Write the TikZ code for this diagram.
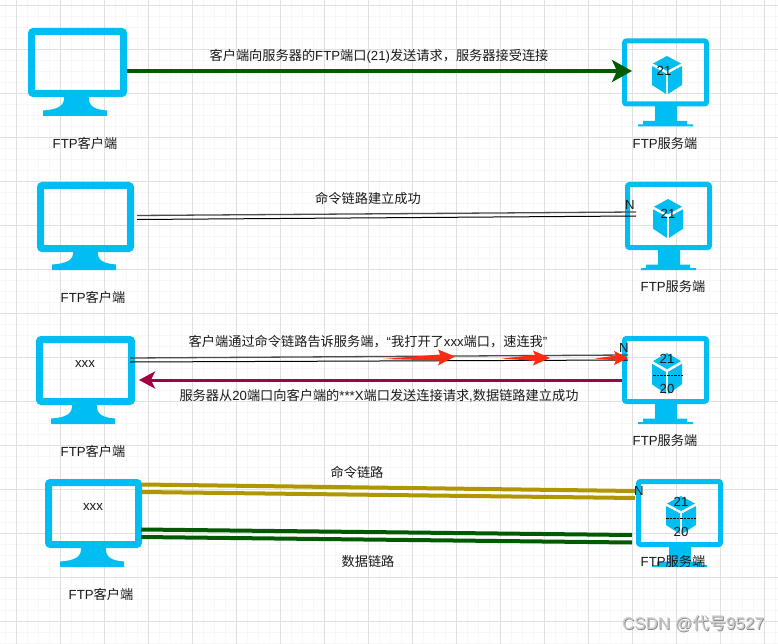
\documentclass[tikz,border=0pt]{standalone}
\usepackage{fontspec}
\setmainfont{Liberation Sans}
\newfontfamily\cjf{Noto Sans CJK SC}
\usetikzlibrary{arrows.meta}
\definecolor{moncyan}{HTML}{00BEF2}
\definecolor{dgreen}{HTML}{005A00}
\definecolor{maroonx}{HTML}{A20045}
\definecolor{goldx}{HTML}{B09600}
\definecolor{redx}{HTML}{FF2A12}
\newcommand{\cj}[1]{{\cjf #1}}
\newcommand{\clientmon}[5]{% name, left, top, width, height
  \node[monframe, minimum width=#4pt-7pt, minimum height=#5pt-7pt] (#1) at ({#2+#4/2},{#3+#5/2}) {};
  \begin{scope}[shift={(#2,#3)}]
    \fill[moncyan] (36,{#5-1}) .. controls (37,78) and (30,81.5) .. (15,82.5) -- (15,88) -- (79,88) -- (79,82.5) .. controls (66,81.5) and (60,78) .. (61,{#5-1}) -- cycle;
  \end{scope}}
\newcommand{\servermon}[3]{% name, left, top
  \node[monframe, line width=5pt, minimum width=82pt, minimum height=63pt] (#1) at ({#2+43.5},{#3+34}) {};
  \begin{scope}[shift={(#2,#3)}]
    \fill[moncyan] (33,67) -- (55,67) -- (55,82.5) -- (65,82.5) -- (65,86) -- (71,86) -- (71,88) -- (16,88) -- (16,86) -- (21,86) -- (21,82.5) -- (33,82.5) -- cycle;
  \end{scope}}
\newcommand{\cubeicon}[3]{% cx, top, height
  \begin{scope}[shift={(#1,#2)}, yscale=#3/38]
    \fill[moncyan] (0,0) -- (14,7.5) -- (0,15) -- (-14,7.5) -- cycle;
    \fill[moncyan] (-15,10) -- (-1,17.5) -- (-1,38) -- (-15,29) -- cycle;
    \fill[moncyan] (15,10) -- (1,17.5) -- (1,38) -- (15,29) -- cycle;
  \end{scope}}
\newcommand{\redarrow}[8]{% tail x y, shoulder base x, half, tip x y, neck half, midy
  \fill[redx] (#1,#2) -- (#3,#8-#7) -- (#3-2,#8-#4) -- (#5,#6) -- (#3-2,#8+#4) -- (#3,#8+#7) -- cycle;}
\tikzset{
  monframe/.style={draw=moncyan, line width=7pt, rounded corners=2pt, inner sep=0pt, outer sep=0pt},
  lbl/.style={font=\fontsize{13.2}{15}\selectfont, text=black!90, inner sep=0pt},
  biglink/.style={line width=4pt},
  thinlink/.style={line width=1pt, black},
  greylink/.style={line width=1.3pt, black!70},
  portdash/.style={black, dash pattern=on 2.5pt off 1pt, line width=0.8pt}
}
\begin{document}
\begin{tikzpicture}[x=1pt,y=-1pt]
\useasboundingbox (0,0) rectangle (778,644);
\fill[white] (0,0) rectangle (778,644);
% grid
\foreach \k in {0,...,72}{
  \draw[black!3, line width=0.5pt] ({5.7+11*\k},0) -- ({5.7+11*\k},644);
  \draw[black!3, line width=0.5pt] (0,{5+11*\k}) -- (778,{5+11*\k});
}
\foreach \k in {0,...,18}{
  \draw[black!12, line width=0.8pt] ({16.7+44*\k},0) -- ({16.7+44*\k},644);
  \draw[black!12, line width=0.8pt] (0,{5+44*\k}) -- (778,{5+44*\k});
}
% monitors
\clientmon{c1}{28}{28}{99}{69}
\clientmon{c2}{37}{182}{97}{70}
\clientmon{c3}{36}{336}{99}{69}
\clientmon{c4}{45}{479}{97}{69}
\servermon{s1}{622}{38.5}
\servermon{s2}{625}{182}
\servermon{s3}{622}{336}
\servermon{s4}{636}{479}
\cubeicon{667}{56}{38}
\cubeicon{668}{199}{39}
\cubeicon{667}{353}{41}
\cubeicon{681}{496}{38}
% monitor labels
\node[lbl] (lc1) at (85,143) {FTP\cj{客户端}};
\node[lbl] (lc2) at (93,297) {FTP\cj{客户端}};
\node[lbl] (lc3) at (93,451) {FTP\cj{客户端}};
\node[lbl] (lc4) at (101,594) {FTP\cj{客户端}};
\node[lbl] (ls1) at (665,143) {FTP\cj{服务端}};
\node[lbl] (ls2) at (673,286) {FTP\cj{服务端}};
\node[lbl] (ls3) at (665,440) {FTP\cj{服务端}};
\node[lbl] (ls4) at (673,561) {FTP\cj{服务端}};
% port texts
\node[lbl] (p1) at (664,71) {21};
\node[lbl] (p2) at (668,214) {21};
\node[lbl] (p3a) at (667,359) {21};
\node[lbl] (p3b) at (667,389) {20};
\node[lbl] (p4a) at (681,502) {21};
\node[lbl] (p4b) at (681,532) {20};
\coordinate (d3l) at (653,375);
\coordinate (d3r) at (683,375);
\coordinate (d4l) at (666,518);
\coordinate (d4r) at (696,518);
\draw[portdash] (d3l) -- (d3r);
\draw[portdash] (d4l) -- (d4r);
\node[lbl] (xa) at (85,364) {xxx};
\node[lbl] (xb) at (93,507) {xxx};
\node[lbl] (n2) at (630,205) {N};
\node[lbl] (n3) at (624,348) {N};
\node[lbl] (n4) at (639,491) {N};
% row 1
\coordinate (a1) at (127,71);
\coordinate (b1) at (632,71);
\draw[biglink, dgreen, -{Stealth[length=20pt,width=22pt,inset=5pt]}] (a1) -- (b1);
\node[lbl] (t1) at (379,56) {\cj{客户端向服务器的}FTP\cj{端口}(21)\cj{发送请求，服务器接受连接}};
% row 2
\coordinate (a2u) at (137,215.5);
\coordinate (b2u) at (636,212);
\coordinate (a2l) at (137,219.5);
\coordinate (b2l) at (636,216);
\draw[greylink] (a2u) -- (b2u);
\draw[thinlink] (a2l) -- (b2l);
\node[lbl] (t2) at (368,198) {\cj{命令链路建立成功}};
% row 3
\coordinate (a3u) at (130,358);
\coordinate (b3u) at (628,355);
\coordinate (a3l) at (130,362);
\coordinate (b3l) at (628,360);
\draw[greylink] (a3u) -- (b3u);
\draw[thinlink] (a3l) -- (b3l);
\redarrow{383}{359}{440}{8}{455}{356.5}{3}{357.5}
\redarrow{502}{358.5}{535}{7.5}{550}{358}{3}{358}
\redarrow{595}{358.5}{616}{7}{628}{358}{2.5}{358}
\coordinate (a3m) at (622,380);
\coordinate (b3m) at (139,380);
\draw[line width=3pt, maroonx, -{Stealth[length=16pt,width=17pt,inset=4pt]}] (a3m) -- (b3m);
\node[lbl] (t3) at (368,342) {\cj{客户端通过命令链路告诉服务端，}“\cj{我打开了}xxx\cj{端口，速连我}”};
\node[lbl] (t3b) at (379,396) {\cj{服务器从}20\cj{端口向客户端的}***X\cj{端口发送连接请求}{,}\cj{数据链路建立成功}};
% row 4
\coordinate (a4g1) at (142,484.5);
\coordinate (b4g1) at (635,491);
\coordinate (a4g2) at (142,492);
\coordinate (b4g2) at (635,498);
\coordinate (a4d1) at (141,529.5);
\coordinate (b4d1) at (632,535);
\coordinate (a4d2) at (141,537);
\coordinate (b4d2) at (632,542.5);
\draw[biglink, goldx] (a4g1) -- (b4g1);
\draw[biglink, goldx] (a4g2) -- (b4g2);
\draw[biglink, dgreen] (a4d1) -- (b4d1);
\draw[biglink, dgreen] (a4d2) -- (b4d2);
\node[lbl] (t4) at (357,472) {\cj{命令链路}};
\node[lbl] (t5) at (368,561) {\cj{数据链路}};
% watermark
\node[lbl, text=black!45, font=\fontsize{17}{19}\selectfont] (wm) at (694,624.5) {CSDN @\cj{代号}9527};
\node[lbl, text=white!80!black, font=\fontsize{17}{19}\selectfont] (wm2) at (693,624) {CSDN @\cj{代号}9527};
\end{tikzpicture}
\end{document}
